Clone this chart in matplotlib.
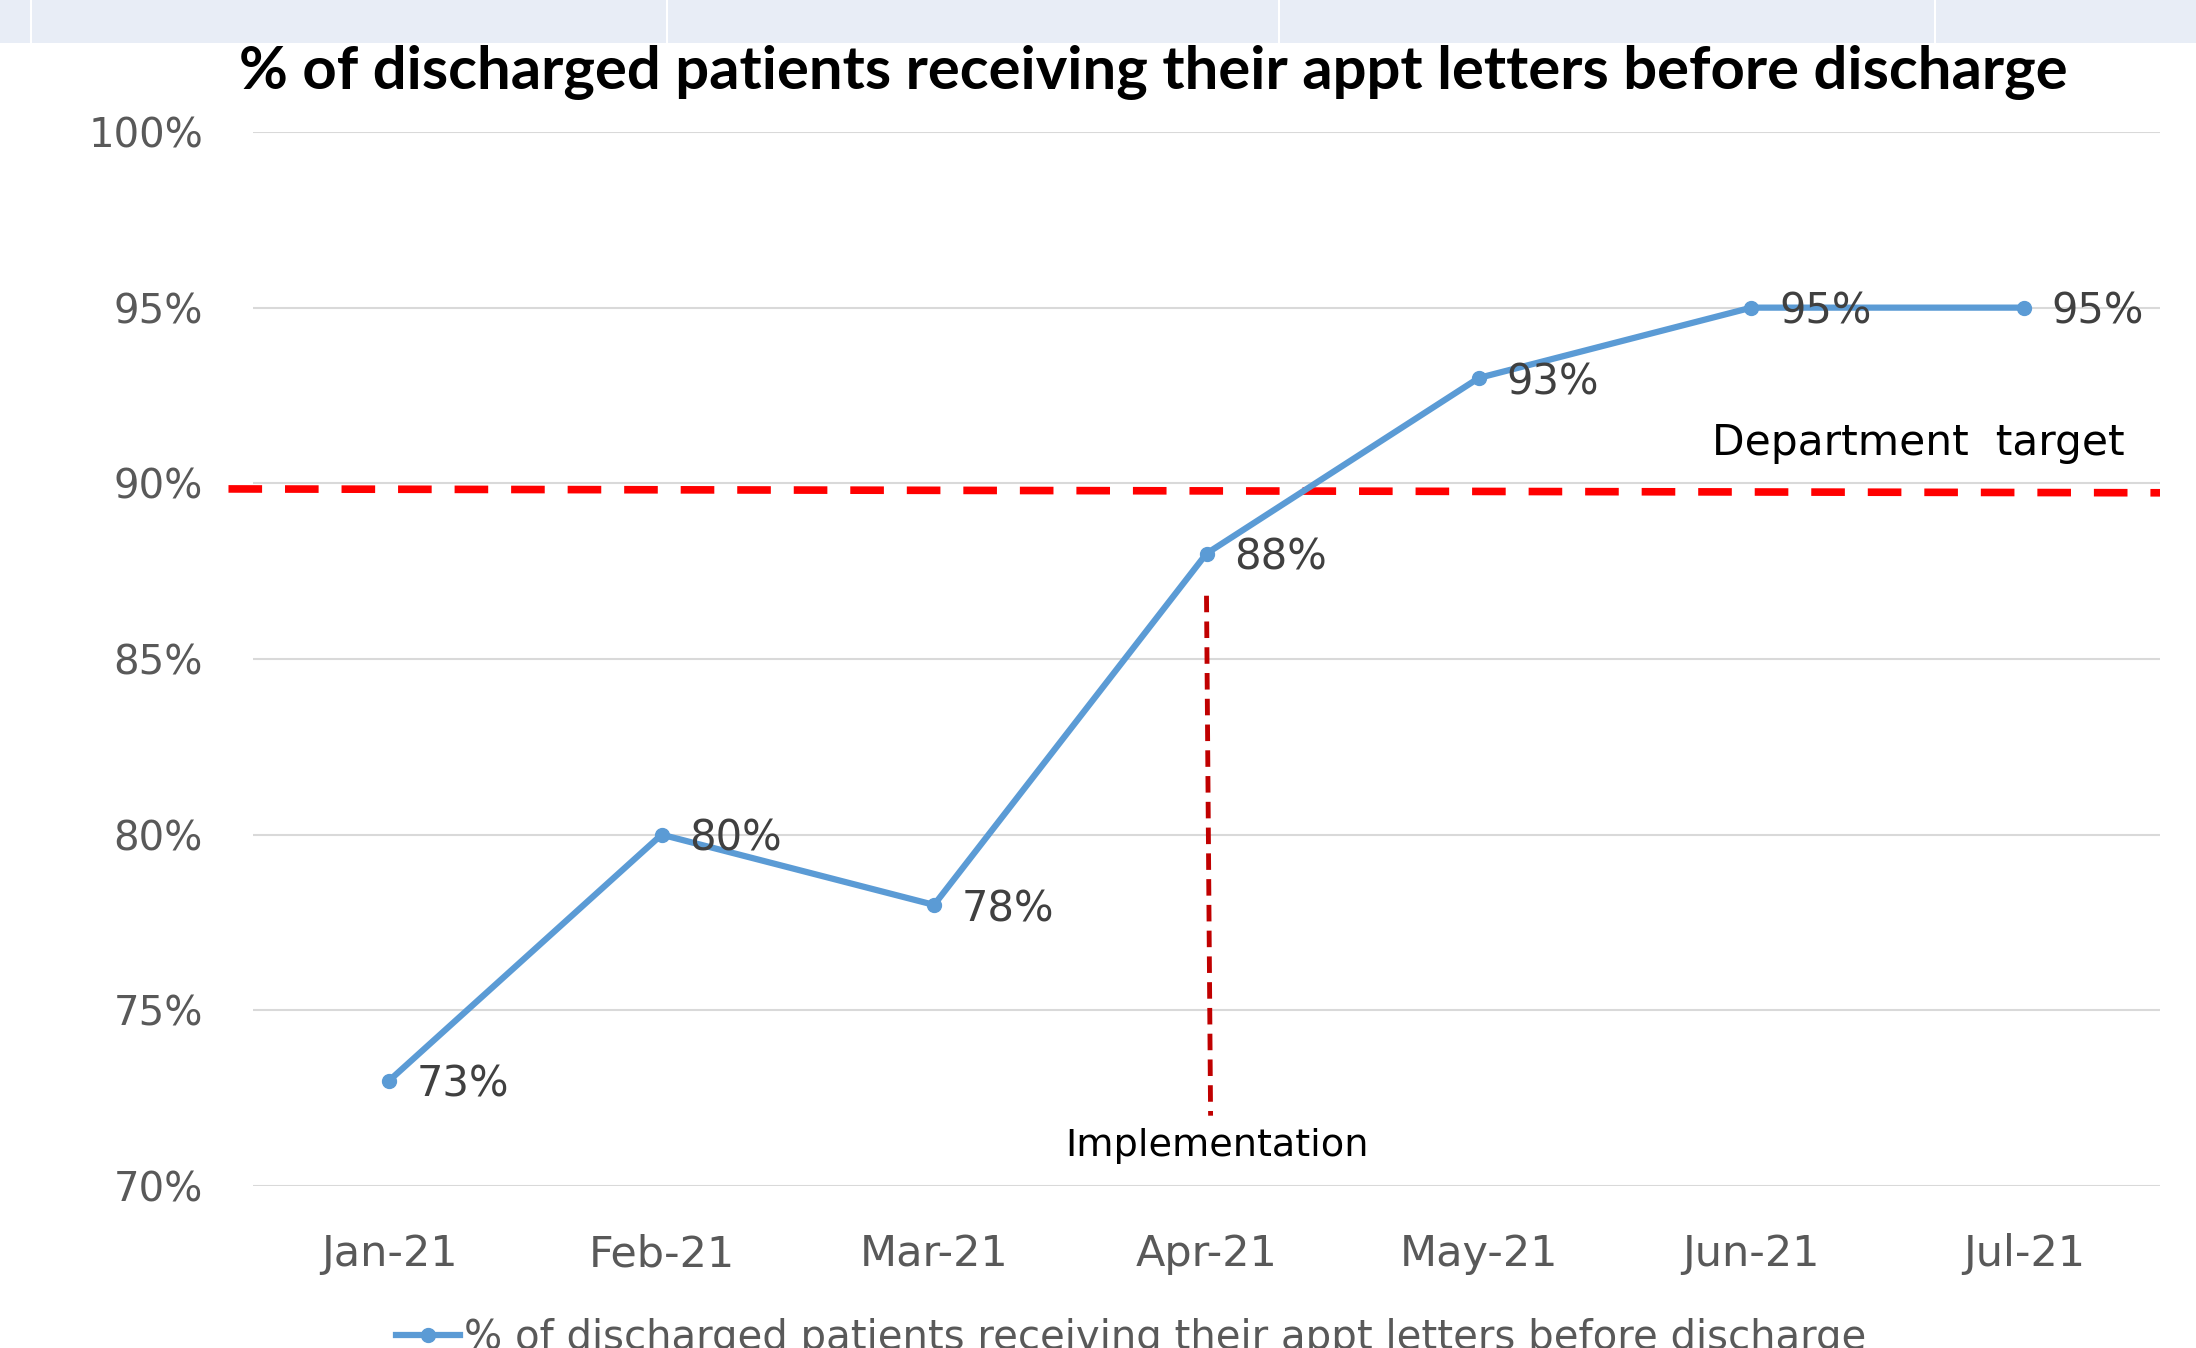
import matplotlib
matplotlib.use('Agg')
import matplotlib.pyplot as plt
from matplotlib.patches import Rectangle
from matplotlib.lines import Line2D

months = ['Jan-21', 'Feb-21', 'Mar-21', 'Apr-21', 'May-21', 'Jun-21', 'Jul-21']
pct = [73, 80, 78, 88, 93, 95, 95]
yticks = [70, 75, 80, 85, 90, 95, 100]
title = '% of discharged patients receiving their appt letters before discharge'
target = 90

blue = '#5b9bd5'
grey = '#595959'

fig = plt.figure(figsize=(21.96, 13.48), dpi=100)
fig.patch.set_facecolor('white')

# light strip across the top, with white separators
fig.patches.append(Rectangle((0, 1 - 43 / 1348), 1, 43 / 1348, transform=fig.transFigure,
                             facecolor='#e8edf6', edgecolor='none', zorder=0))
for sx in [31, 667, 1279, 1935]:
    fig.add_artist(Line2D([sx / 2196, sx / 2196], [1 - 43 / 1348, 1], transform=fig.transFigure,
                          color='white', lw=1.5))

ax = fig.add_axes([253 / 2196, 0.1202, (2160 - 253) / 2196, 0.7819])
x = list(range(len(months)))

ax.set_xlim(-0.5, len(months) - 0.5)
ax.set_ylim(70, 100)
ax.set_yticks(yticks)
ax.set_yticklabels([f'{v}%' for v in yticks])
ax.set_xticks(x)
ax.set_xticklabels(months)
ax.tick_params(length=0, labelsize=29, labelcolor=grey)
ax.tick_params(axis='x', pad=34, labelsize=31)
ax.tick_params(axis='y', pad=36)
for s in ax.spines.values():
    s.set_visible(False)
ax.grid(axis='y', color='#d9d9d9', lw=1.5)
ax.set_axisbelow(True)

line, = ax.plot(x, pct, color=blue, lw=4.5, marker='o', ms=10, zorder=4,
                label=title)
for xi, v in zip(x, pct):
    ax.annotate(f'{v}%', (xi, v), xytext=(20, -3), textcoords='offset points',
                ha='left', va='center', fontsize=30, color='#404040', zorder=5)

# department target (slightly tilted, drawn past the plot edges)
ax.plot([-0.59, 6.5], [target - 0.16, target - 0.27], color='#ff0000', lw=5.5,
        dashes=(4.4, 3.0), clip_on=False, zorder=3)
ax.text(6.37, 91.15, 'Department  target', ha='right', va='center', fontsize=30.5,
        color='black')

# implementation marker
ax.plot([3.0, 3.015], [86.8, 72.0], color='#c00000', lw=3.5, dashes=(3.4, 1.9), zorder=3)
ax.text(3.04, 71.14, 'Implementation', ha='center', va='center', fontsize=27.5,
        color='black')

fig.text(1153 / 2196, 1 - 73 / 1348, title, ha='center', va='center',
         fontsize=43, fontweight='bold', family=['Liberation Sans Narrow', 'Lato', 'DejaVu Sans'])

fig.legend(handles=[line], loc='center', bbox_to_anchor=(1131 / 2196, 1 - 1338 / 1348),
           frameon=False, fontsize=29, labelcolor=grey, handlelength=1.6, handletextpad=0.1)

fig.savefig('out.png', dpi=100)
